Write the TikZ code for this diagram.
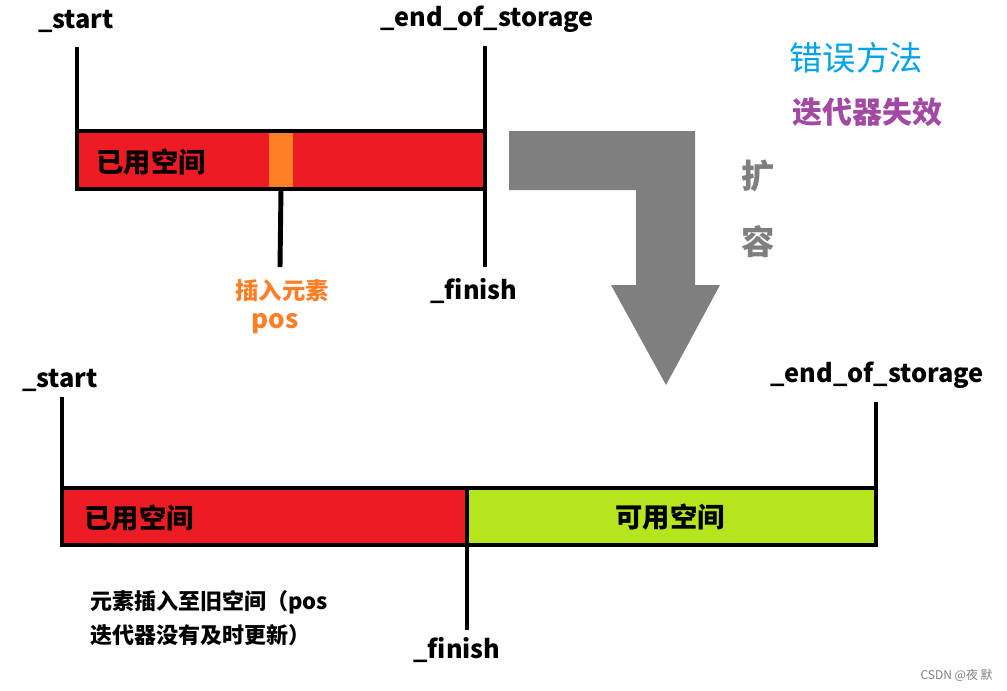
\documentclass[tikz,border=0pt]{standalone}
\usepackage{fontspec}
\setmainfont{Noto Sans CJK SC}
\definecolor{usedred}{RGB}{237,28,36}
\definecolor{insorange}{RGB}{255,127,39}
\definecolor{freegreen}{RGB}{181,230,29}
\definecolor{arrowgray}{RGB}{127,127,127}
\definecolor{titlecyan}{RGB}{0,162,232}
\definecolor{titlepurple}{RGB}{163,73,164}

\begin{document}
\begin{tikzpicture}[x=0.75pt,y=-0.75pt,
   ptr/.style={line width=3.7pt},
   lbl/.style={inner sep=0pt,font=\fontsize{19}{22}\selectfont\bfseries},
   cell/.style={inner sep=0pt,font=\fontsize{20.5}{24}\selectfont\bfseries}]
   \useasboundingbox (0,0) rectangle (1007,690);

   % old storage
   \coordinate (onw) at (77,131);
   \coordinate (ose) at (485,189);
   \fill[usedred] (onw) rectangle (ose);
   \fill[insorange] (269,131) rectangle (293,189);
   \draw[ptr] (onw) rectangle (ose);
   \node[cell] (oused) at (151,162) {已用空间};

   \node[lbl] (ostart) at (76,21) {\_start};
   \node[lbl] (oend) at (487,19) {\_end\_of\_storage};
   \node[lbl] (ofinish) at (474,291) {\_finish};
   \node[inner sep=0pt,text=insorange,font=\fontsize{17.5}{20}\selectfont\bfseries] (opos) at (282,291) {插入元素};
   \node[inner sep=0pt,text=insorange,font=\fontsize{19.5}{22}\selectfont\bfseries] (oposb) at (275,324) {pos};
   \coordinate (ostarttop) at (77,47);
   \coordinate (oendtop) at (485,46);
   \coordinate (ofinbot) at (485,267);
   \coordinate (oposbot) at (280,267);
   \draw[ptr] (ostarttop) -- (onw);
   \draw[ptr] (oendtop) -- (ofinbot);
   \draw[ptr] (281,189) -- (oposbot);

   % grow arrow
   \fill[arrowgray] (509,131) -- (695,131) -- (695,285) -- (720,285) -- (666,385)
     -- (611,285) -- (636,285) -- (636,190) -- (509,190) -- cycle;
   \node[inner sep=0pt,text=arrowgray,font=\fontsize{25}{28}\selectfont\bfseries] (kuo) at (758,176) {扩};
   \node[inner sep=0pt,text=arrowgray,font=\fontsize{25}{28}\selectfont\bfseries] (rong) at (758,242) {容};

   \node[inner sep=0pt,text=titlecyan,font=\fontsize{25}{28}\selectfont] (wrong) at (856,58) {错误方法};
   \node[inner sep=0pt,text=titlepurple,font=\fontsize{22.5}{26}\selectfont\bfseries] (invalid) at (867,112) {迭代器失效};

   % new storage
   \coordinate (nnw) at (62,488);
   \coordinate (nmid) at (467,545);
   \coordinate (nse) at (876,545);
   \fill[usedred] (nnw) rectangle (nmid);
   \fill[freegreen] (467,488) rectangle (nse);
   \draw[ptr] (nnw) rectangle (nse);
   \draw[ptr] (467,488) -- (nmid);
   \node[cell] (nused) at (139,518) {已用空间};
   \node[cell] (nfree) at (670,517) {可用空间};

   \node[lbl] (nstart) at (60,380) {\_start};
   \node[lbl] (nend) at (877,375) {\_end\_of\_storage};
   \node[lbl] (nfinish) at (457,650) {\_finish};
   \coordinate (nstarttop) at (62,397);
   \coordinate (nendtop) at (876,402);
   \coordinate (nfinbot) at (467,630);
   \draw[ptr] (nstarttop) -- (nnw);
   \draw[ptr] (nendtop) -- (nse);
   \draw[ptr] (nmid) -- (nfinbot);

   \node[inner sep=0pt,anchor=west,align=left,font=\fontsize{16.5}{26}\selectfont\bfseries] (note) at (90,618)
     {元素插入至旧空间（pos\\迭代器没有及时更新）};

   \node[inner sep=0pt,anchor=east,text=gray,font=\fontsize{9}{11}\selectfont] (mark) at (993,675) {CSDN @夜 默};
\end{tikzpicture}
\end{document}
